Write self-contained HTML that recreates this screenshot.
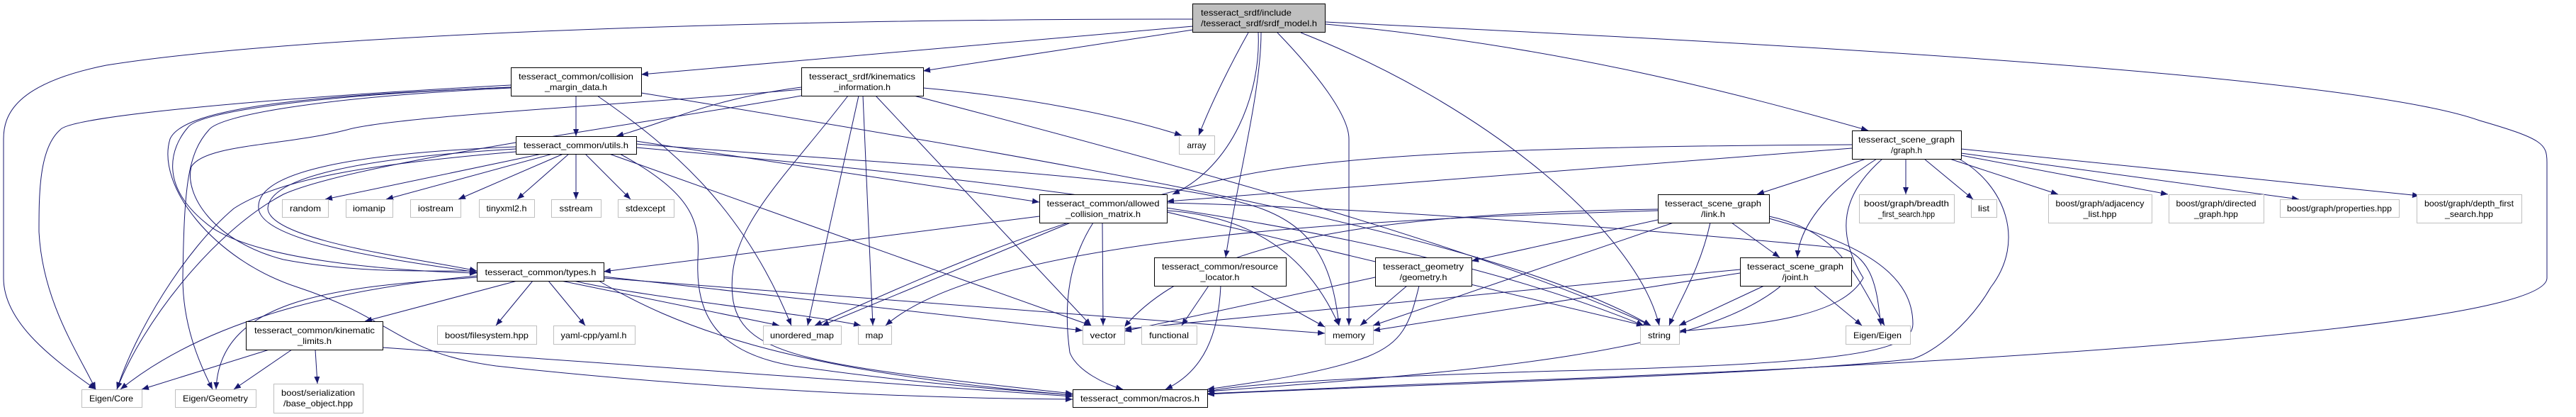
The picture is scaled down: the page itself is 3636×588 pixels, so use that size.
<!DOCTYPE html>
<html><head><meta charset="utf-8"><style>
html,body{margin:0;padding:0;background:#fff;}
svg{display:block;}
text{font-family:"Liberation Sans",sans-serif;font-size:12px;fill:#000;}
</style></head><body>
<svg width="3636" height="588" viewBox="0 0 3636 588" xmlns="http://www.w3.org/2000/svg">
<defs>
<marker id="a" markerWidth="10" markerHeight="8" refX="10" refY="4" orient="auto" markerUnits="userSpaceOnUse"><path d="M0,0 L10,4 L0,8 z" fill="#191970"/></marker>
</defs>
<g fill="none" stroke="#191970" stroke-width="1" marker-end="url(#a)">
<!-- top node -->
<path d="M1684,37 L905,105"/>
<path d="M1684,42 L1303,100"/>
<path d="M1684,27 C1000,27 400,52 150,92 C20,118 5,163 5,196 L5,392 C5,457 80,510 135,549"/>
<path d="M1762,46 C1740,85 1710,144 1692,191"/>
<path d="M1776,46 C1780,131 1740,235 1655,274"/>
<path d="M1780,46 C1780,131 1745,261 1730,363"/>
<path d="M1803,46 C1860,105 1904,163 1904,196 L1904,459"/>
<path d="M1836,46 C2100,150 2310,327 2342,459"/>
<path d="M1871,34 C2200,65 2450,131 2637,184"/>
<path d="M1871,31 C2300,52 3300,98 3500,170 C3590,196 3595,203 3595,229 L3595,392 C3595,457 2900,510 2000,542 L1704,555"/>
<!-- collision margin -->
<path d="M813,135 L813,192"/>
<path d="M721,120 C400,137 100,163 85,183 C55,209 55,274 55,327 C60,425 110,497 135,549"/>
<path d="M721,123 C450,134 280,157 265,180 C240,209 225,261 290,314 C350,366 550,382 673,385"/>
<path d="M721,124 C450,137 310,163 295,183 C265,216 260,261 258,392 C258,457 280,510 300,549"/>
<path d="M721,123 C450,134 260,150 240,196 C220,261 300,366 420,405 C560,451 560,497 700,516 C1000,549 1300,562 1514,563"/>
<path d="M843,135 C950,209 1050,294 1117,459"/>
<path d="M905,131 C1500,229 2100,327 2330,459"/>
<!-- kinematics information -->
<path d="M1131,123 C1000,140 950,170 870,192"/>
<path d="M1131,126 C900,147 560,163 490,183 C400,206 290,203 270,235 C260,274 300,340 400,366 C500,385 600,382 673,382"/>
<path d="M1131,135 C900,176 500,229 400,274 C300,327 200,457 165,549"/>
<path d="M1212,135 L1140,459"/>
<path d="M1197,135 C1100,261 1020,327 1035,425 C1050,503 1150,516 1514,555"/>
<path d="M1218,135 L1232,459"/>
<path d="M1236,135 L1540,459"/>
<path d="M1303,124 C1450,137 1580,163 1668,191"/>
<path d="M1290,135 C1700,242 2100,353 2330,459"/>
<!-- utils -->
<path d="M765,217 L459,281"/>
<path d="M780,217 L545,281"/>
<path d="M795,217 L647,281"/>
<path d="M803,217 L730,281"/>
<path d="M813,217 L813,281"/>
<path d="M826,217 L890,281"/>
<path d="M728,207 C500,216 360,242 365,294 C370,346 600,372 673,384"/>
<path d="M728,210 C520,222 380,248 378,294 C380,340 600,366 673,382"/>
<path d="M728,214 C550,229 400,248 330,294 C260,353 190,470 165,549"/>
<path d="M898,199 L1467,285"/>
<path d="M860,217 L1540,459"/>
<path d="M898,203 C1300,235 1650,248 1780,294 C1850,320 1880,366 1890,459"/>
<path d="M875,217 C980,274 988,314 985,366 C982,444 1010,497 1120,516 C1300,542 1450,552 1514,557"/>
<path d="M898,208 C1500,261 2000,327 2320,459"/>
<!-- allowed collision matrix -->
<path d="M1467,305 L852,383"/>
<path d="M1511,314 L1160,459"/>
<path d="M1556,314 L1557,459"/>
<path d="M1543,314 C1510,366 1500,425 1510,497 C1520,523 1560,542 1585,549"/>
<path d="M1647,297 C1800,307 1860,392 1890,459"/>
<path d="M1647,299 L2320,459"/>
<path d="M1647,286 C2000,294 2500,340 2600,350 C2650,366 2650,425 2655,459"/>
<!-- resource locator -->
<path d="M1706,403 L1668,459"/>
<path d="M1723,403 C1720,470 1700,523 1645,549"/>
<path d="M1765,403 L1870,461"/>
<!-- types -->
<path d="M730,396 L515,453"/>
<path d="M752,396 L700,459"/>
<path d="M774,396 L826,459"/>
<path d="M792,396 L1100,459"/>
<path d="M810,396 C900,418 1150,444 1215,459"/>
<path d="M852,390 L1528,466"/>
<path d="M852,392 L1870,470"/>
<path d="M845,396 C950,457 1100,523 1514,557"/>
<path d="M673,389 C500,405 300,444 170,549"/>
<path d="M673,391 C480,405 310,418 305,549"/>
<!-- kinematic limits -->
<path d="M380,493 L200,549"/>
<path d="M412,493 L330,549"/>
<path d="M445,493 L448,541"/>
<path d="M540,490 L1514,559"/>
<!-- geometry -->
<path d="M1941,391 L1587,467"/>
<path d="M1986,403 L1920,459"/>
<path d="M2003,403 C1990,457 1980,483 1930,503 C1860,529 1750,542 1704,549"/>
<!-- link -->
<path d="M2340,310 L2077,368"/>
<path d="M2362,314 L1938,459"/>
<path d="M2414,314 C2400,379 2370,425 2356,459"/>
<path d="M2444,314 L2512,363"/>
<path d="M2497,305 C2600,327 2620,392 2660,459"/>
<path d="M2497,308 C2640,346 2700,392 2700,457 C2700,497 2600,513 2200,523 C1900,532 1750,542 1704,552"/>
<path d="M2340,297 C2000,307 1400,327 1250,459"/>
<path d="M2340,295 C2000,300 1700,327 1587,461"/>
<!-- joint -->
<path d="M2456,380 L1587,464"/>
<path d="M2456,385 L1938,466"/>
<path d="M2490,403 L2370,459"/>
<path d="M2560,403 L2628,459"/>
<path d="M2514,403 C2400,497 2100,523 1704,552"/>
<!-- graph -->
<path d="M2690,224 L2690,274"/>
<path d="M2634,224 L2480,274"/>
<path d="M2649,224 C2590,261 2540,314 2537,363"/>
<path d="M2716,224 L2785,281"/>
<path d="M2752,224 L2905,274"/>
<path d="M2768,219 L3060,274"/>
<path d="M2768,216 L3245,281"/>
<path d="M2768,210 L3415,276"/>
<path d="M2657,224 C2600,274 2590,327 2630,392 C2600,444 2500,457 2370,467"/>
<path d="M2765,224 C2830,261 2860,340 2810,405 C2780,457 2730,497 2700,506 C2500,530 1900,545 1704,556"/>
<path d="M2614,209 L1647,284"/>
<path d="M2614,204 C2200,206 1900,216 1750,248 C1500,300 1300,392 1150,459"/>
</g>
<!-- nodes -->
<g stroke-width="1">
<rect x="1683.5" y="5.5" width="187" height="40" fill="#bfbfbf" stroke="#000"/>
<rect x="721.5" y="95.5" width="184" height="40" fill="#fff" stroke="#000"/>
<rect x="1131.5" y="95.5" width="172" height="40" fill="#fff" stroke="#000"/>
<rect x="728.5" y="192.5" width="170" height="25" fill="#fff" stroke="#000"/>
<rect x="1467.5" y="274.5" width="180" height="40" fill="#fff" stroke="#000"/>
<rect x="1629.5" y="363.5" width="186" height="40" fill="#fff" stroke="#000"/>
<rect x="673.5" y="370.5" width="179" height="26" fill="#fff" stroke="#000"/>
<rect x="347.5" y="453.5" width="193" height="40" fill="#fff" stroke="#000"/>
<rect x="1514.5" y="549.5" width="190" height="25" fill="#fff" stroke="#000"/>
<rect x="2614.5" y="184.5" width="154" height="40" fill="#fff" stroke="#000"/>
<rect x="2340.5" y="274.5" width="157" height="40" fill="#fff" stroke="#000"/>
<rect x="1941.5" y="363.5" width="136" height="40" fill="#fff" stroke="#000"/>
<rect x="2456.5" y="363.5" width="157" height="40" fill="#fff" stroke="#000"/>
</g>
<g fill="#fff" stroke="#bfbfbf">
<rect x="398.5" y="281.5" width="65" height="25"/>
<rect x="488.5" y="281.5" width="66" height="25"/>
<rect x="579.5" y="281.5" width="71" height="25"/>
<rect x="676.5" y="281.5" width="78" height="25"/>
<rect x="778.5" y="281.5" width="70" height="25"/>
<rect x="872.5" y="281.5" width="79" height="25"/>
<rect x="1664.5" y="191.5" width="50" height="26"/>
<rect x="617.5" y="459.5" width="140" height="26"/>
<rect x="781.5" y="459.5" width="115" height="26"/>
<rect x="1077.5" y="459.5" width="110" height="26"/>
<rect x="1211.5" y="459.5" width="47" height="26"/>
<rect x="1528.5" y="459.5" width="59" height="26"/>
<rect x="1611.5" y="459.5" width="78" height="26"/>
<rect x="1870.5" y="459.5" width="68" height="26"/>
<rect x="2315.5" y="459.5" width="55" height="26"/>
<rect x="2605.5" y="459.5" width="91" height="26"/>
<rect x="115.5" y="549.5" width="85" height="25"/>
<rect x="247.5" y="549.5" width="114" height="25"/>
<rect x="386.5" y="541.5" width="126" height="41"/>
<rect x="2624.5" y="274.5" width="134" height="40"/>
<rect x="2782.5" y="281.5" width="36" height="25"/>
<rect x="2891.5" y="274.5" width="146" height="40"/>
<rect x="3061.5" y="274.5" width="134" height="40"/>
<rect x="3218.5" y="281.5" width="168" height="25"/>
<rect x="3411.5" y="274.5" width="148" height="40"/>
</g>
<g>
<text x="1695" y="22" textLength="128" lengthAdjust="spacingAndGlyphs">tesseract_srdf/include</text>
<text x="1695" y="37" textLength="164" lengthAdjust="spacingAndGlyphs">/tesseract_srdf/srdf_model.h</text>
</g>
<g text-anchor="middle">
<text x="813" y="112" textLength="162" lengthAdjust="spacingAndGlyphs">tesseract_common/collision</text>
<text x="813" y="127" textLength="88" lengthAdjust="spacingAndGlyphs">_margin_data.h</text>
<text x="1217" y="112" textLength="150" lengthAdjust="spacingAndGlyphs">tesseract_srdf/kinematics</text>
<text x="1217" y="127" textLength="80" lengthAdjust="spacingAndGlyphs">_information.h</text>
<text x="813" y="209" textLength="148" lengthAdjust="spacingAndGlyphs">tesseract_common/utils.h</text>
<text x="1557" y="291" textLength="159" lengthAdjust="spacingAndGlyphs">tesseract_common/allowed</text>
<text x="1557" y="306" textLength="106" lengthAdjust="spacingAndGlyphs">_collision_matrix.h</text>
<text x="1722" y="380" textLength="164" lengthAdjust="spacingAndGlyphs">tesseract_common/resource</text>
<text x="1722" y="395" textLength="55" lengthAdjust="spacingAndGlyphs">_locator.h</text>
<text x="763" y="388" textLength="157" lengthAdjust="spacingAndGlyphs">tesseract_common/types.h</text>
<text x="444" y="470" textLength="170" lengthAdjust="spacingAndGlyphs">tesseract_common/kinematic</text>
<text x="444" y="485" textLength="48" lengthAdjust="spacingAndGlyphs">_limits.h</text>
<text x="1609" y="566" textLength="168" lengthAdjust="spacingAndGlyphs">tesseract_common/macros.h</text>
<text x="2691" y="201" textLength="136" lengthAdjust="spacingAndGlyphs">tesseract_scene_graph</text>
<text x="2691" y="216" textLength="44" lengthAdjust="spacingAndGlyphs">/graph.h</text>
<text x="2418" y="291" textLength="136" lengthAdjust="spacingAndGlyphs">tesseract_scene_graph</text>
<text x="2418" y="306" textLength="34" lengthAdjust="spacingAndGlyphs">/link.h</text>
<text x="2009" y="380" textLength="114" lengthAdjust="spacingAndGlyphs">tesseract_geometry</text>
<text x="2009" y="395" textLength="67" lengthAdjust="spacingAndGlyphs">/geometry.h</text>
<text x="2534" y="380" textLength="136" lengthAdjust="spacingAndGlyphs">tesseract_scene_graph</text>
<text x="2534" y="395" textLength="37" lengthAdjust="spacingAndGlyphs">/joint.h</text>
<text x="431" y="298" textLength="44" lengthAdjust="spacingAndGlyphs">random</text>
<text x="521" y="298" textLength="46" lengthAdjust="spacingAndGlyphs">iomanip</text>
<text x="615" y="298" textLength="50" lengthAdjust="spacingAndGlyphs">iostream</text>
<text x="715" y="298" textLength="57" lengthAdjust="spacingAndGlyphs">tinyxml2.h</text>
<text x="813" y="298" textLength="47" lengthAdjust="spacingAndGlyphs">sstream</text>
<text x="911" y="298" textLength="56" lengthAdjust="spacingAndGlyphs">stdexcept</text>
<text x="1689" y="209" textLength="27" lengthAdjust="spacingAndGlyphs">array</text>
<text x="687" y="477" textLength="118" lengthAdjust="spacingAndGlyphs">boost/filesystem.hpp</text>
<text x="838" y="477" textLength="93" lengthAdjust="spacingAndGlyphs">yaml-cpp/yaml.h</text>
<text x="1132" y="477" textLength="90" lengthAdjust="spacingAndGlyphs">unordered_map</text>
<text x="1234" y="477" textLength="25" lengthAdjust="spacingAndGlyphs">map</text>
<text x="1557" y="477" textLength="37" lengthAdjust="spacingAndGlyphs">vector</text>
<text x="1650" y="477" textLength="56" lengthAdjust="spacingAndGlyphs">functional</text>
<text x="1904" y="477" textLength="46" lengthAdjust="spacingAndGlyphs">memory</text>
<text x="2342" y="477" textLength="32" lengthAdjust="spacingAndGlyphs">string</text>
<text x="2650" y="477" textLength="68" lengthAdjust="spacingAndGlyphs">Eigen/Eigen</text>
<text x="157" y="566" textLength="62" lengthAdjust="spacingAndGlyphs">Eigen/Core</text>
<text x="304" y="566" textLength="92" lengthAdjust="spacingAndGlyphs">Eigen/Geometry</text>
<text x="449" y="558" textLength="104" lengthAdjust="spacingAndGlyphs">boost/serialization</text>
<text x="449" y="573" textLength="98" lengthAdjust="spacingAndGlyphs">/base_object.hpp</text>
<text x="2691" y="291" textLength="120" lengthAdjust="spacingAndGlyphs">boost/graph/breadth</text>
<text x="2691" y="306" textLength="80" lengthAdjust="spacingAndGlyphs">_first_search.hpp</text>
<text x="2800" y="298" textLength="16" lengthAdjust="spacingAndGlyphs">list</text>
<text x="2964" y="291" textLength="125" lengthAdjust="spacingAndGlyphs">boost/graph/adjacency</text>
<text x="2964" y="306" textLength="47" lengthAdjust="spacingAndGlyphs">_list.hpp</text>
<text x="3128" y="291" textLength="113" lengthAdjust="spacingAndGlyphs">boost/graph/directed</text>
<text x="3128" y="306" textLength="62" lengthAdjust="spacingAndGlyphs">_graph.hpp</text>
<text x="3302" y="298" textLength="148" lengthAdjust="spacingAndGlyphs">boost/graph/properties.hpp</text>
<text x="3485" y="291" textLength="126" lengthAdjust="spacingAndGlyphs">boost/graph/depth_first</text>
<text x="3485" y="306" textLength="68" lengthAdjust="spacingAndGlyphs">_search.hpp</text>
</g>
</svg>
</body></html>
